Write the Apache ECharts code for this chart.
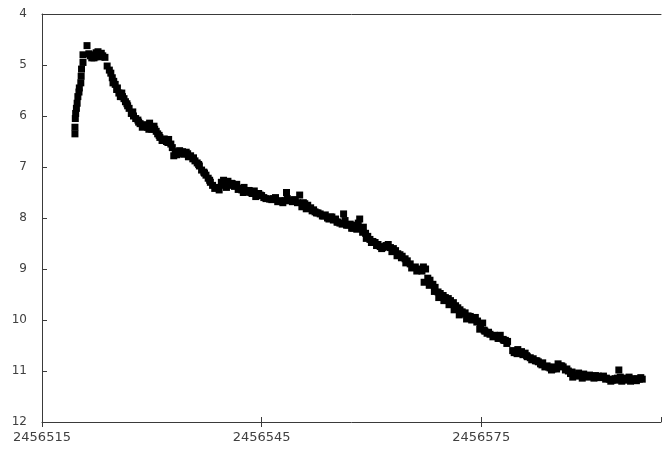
<!DOCTYPE html>
<html>
<head>
<meta charset="utf-8">
<script src="https://cdn.jsdelivr.net/npm/echarts@6/dist/echarts.min.js"></script>
<style>
  html, body { margin: 0; padding: 0; background: #fff; }
  #chart { width: 662px; height: 452px; }
</style>
</head>
<body>
<div id="chart"></div>
<script>
// Julian date of each observation
const julianDates = [
  2456519.5, 2456519.5, 2456519.55, 2456519.6, 2456519.8, 2456519.9, 2456520.05, 2456520.1, 2456520.3, 2456520.35,
  2456520.4, 2456520.6, 2456520.6, 2456521.15,
  2456521.6, 2456521.8, 2456522.0, 2456522.25, 2456522.4, 2456522.65, 2456522.9, 2456523.1, 2456523.3, 2456523.6,
  2456523.9, 2456524.2, 2456524.4, 2456524.6, 2456524.7, 2456525.0, 2456525.3, 2456525.5, 2456525.7, 2456525.9,
  2456526.2, 2456526.4, 2456526.7, 2456526.9, 2456527.2, 2456527.5, 2456527.8, 2456528.1, 2456528.4, 2456528.7,
  2456529.0, 2456529.4, 2456529.7, 2456530.0, 2456530.3, 2456530.6, 2456530.8, 2456531.1, 2456531.4, 2456531.7,
  2456532.0, 2456532.3, 2456532.6,
  2456533.0, 2456533.2, 2456533.5, 2456533.8, 2456534.1, 2456534.4, 2456534.7, 2456535.0, 2456535.3, 2456535.6,
  2456535.9, 2456536.2, 2456536.5, 2456536.8, 2456537.1, 2456537.4, 2456537.7, 2456538.0, 2456538.3, 2456538.6,
  2456539.2, 2456539.5, 2456539.8, 2456540.1, 2456540.4, 2456540.7, 2456541.0, 2456541.3, 2456541.6, 2456542.0,
  2456542.3, 2456542.6, 2456543.0, 2456543.3, 2456543.7, 2456544.0, 2456544.3, 2456544.6, 2456545.0,
  2456545.3, 2456546.1, 2456546.6, 2456547.2, 2456548.4, 2456548.5, 2456549.2, 2456549.6, 2456550.2, 2456550.5,
  2456550.9, 2456551.3, 2456551.7, 2456552.1, 2456552.3, 2456552.7, 2456553.0, 2456553.3, 2456553.7, 2456554.0,
  2456554.4, 2456554.8, 2456555.1, 2456555.4, 2456555.7, 2456556.2, 2456556.4, 2456556.8, 2456557.1, 2456557.5,
  2456557.8, 2456558.2, 2456558.4, 2456558.6, 2456558.9, 2456559.2, 2456559.5, 2456559.8, 2456560.2, 2456560.5,
  2456560.9, 2456561.2, 2456561.6, 2456562.0, 2456562.3, 2456562.6, 2456563.0, 2456563.3, 2456563.6, 2456563.9,
  2456564.2, 2456564.6, 2456564.9, 2456565.3, 2456565.7, 2456566.0, 2456566.4, 2456566.7, 2456567.1, 2456567.4,
  2456567.7, 2456568.0, 2456568.4, 2456568.7, 2456569.1, 2456569.4, 2456569.8, 2456570.1, 2456570.5, 2456570.8,
  2456571.2, 2456571.5, 2456571.8, 2456572.1, 2456572.4, 2456572.8, 2456573.2, 2456573.5, 2456573.9, 2456574.2,
  2456574.5, 2456574.8, 2456575.2, 2456575.5, 2456575.8, 2456576.2, 2456576.6, 2456576.9, 2456577.3, 2456577.6,
  2456578.0, 2456578.3, 2456578.6, 2456579.3, 2456579.6, 2456580.0, 2456580.3, 2456580.7, 2456581.0, 2456581.3,
  2456581.7, 2456582.1, 2456582.4, 2456582.8, 2456583.1, 2456583.4, 2456583.7, 2456584.0, 2456584.4, 2456584.8,
  2456585.1, 2456585.5, 2456585.8, 2456586.2, 2456586.5, 2456586.9, 2456587.2, 2456587.5, 2456587.9, 2456588.3,
  2456588.6, 2456589.0, 2456589.4, 2456589.8, 2456590.2, 2456590.6, 2456591.0, 2456591.3, 2456591.7, 2456592.1,
  2456592.5, 2456592.9, 2456593.3, 2456593.6, 2456593.8, 2456594.0, 2456594.4, 2456594.8, 2456595.2, 2456595.6,
  2456596.0, 2456596.4, 2456596.8, 2456597.0,
  // second pass of observations
  2456519.7, 2456521.4, 2456522.1, 2456523.0, 2456524.8, 2456525.2, 2456526.0, 2456526.6, 2456527.4, 2456528.2,
  2456528.9, 2456529.6, 2456530.4, 2456531.0, 2456531.6, 2456532.2, 2456532.8, 2456533.4, 2456534.2, 2456534.9,
  2456535.7, 2456536.4, 2456537.2, 2456537.9, 2456538.9, 2456539.6, 2456540.2, 2456540.9, 2456541.8, 2456542.5,
  2456543.5, 2456544.2, 2456544.8, 2456545.6, 2456546.4, 2456546.9, 2456547.5, 2456547.9, 2456548.2, 2456548.8,
  2456549.4, 2456549.9, 2456550.7, 2456551.1, 2456551.9, 2456552.5, 2456553.5, 2456554.2, 2456554.6, 2456555.3,
  2456556.0, 2456556.6, 2456557.3, 2456557.9, 2456558.0, 2456558.8, 2456559.3, 2456560.0, 2456560.7, 2456561.4,
  2456562.2, 2456562.8, 2456563.5, 2456564.1, 2456564.7, 2456565.5, 2456566.2, 2456566.9, 2456567.2, 2456567.9,
  2456568.6, 2456569.2, 2456569.9, 2456570.6, 2456571.3, 2456572.0, 2456572.6, 2456573.0, 2456573.7, 2456574.4,
  2456574.9, 2456575.4, 2456576.0, 2456576.8, 2456577.4, 2456578.1, 2456578.5, 2456579.5, 2456579.9, 2456580.5,
  2456581.2, 2456581.9, 2456582.6, 2456583.3, 2456584.2, 2456584.6, 2456585.3, 2456586.0, 2456586.7, 2456587.4,
  2456588.1, 2456588.8, 2456589.6, 2456590.4, 2456591.2, 2456592.0, 2456592.7, 2456593.5, 2456594.2, 2456594.6,
  2456595.4, 2456596.2, 2456596.6
];

// visual magnitude of each observation
const magnitudes = [
  6.35, 6.22, 6.05, 5.95, 5.75, 5.62, 5.53, 5.45, 5.35, 5.22,
  5.08, 4.95, 4.80, 4.62,
  4.82, 4.86, 4.80, 4.84, 4.76, 4.74, 4.80, 4.77, 4.82, 4.85,
  5.02, 5.10, 5.16, 5.25, 5.35, 5.38, 5.45, 5.55, 5.62, 5.55,
  5.66, 5.72, 5.80, 5.85, 5.95, 6.00, 6.05, 6.08, 6.15, 6.22,
  6.17, 6.22, 6.14, 6.26, 6.20, 6.30, 6.35, 6.42, 6.48, 6.45,
  6.50, 6.46, 6.55,
  6.78, 6.70, 6.74, 6.68, 6.72, 6.75, 6.71, 6.80, 6.78, 6.84,
  6.88, 6.92, 6.98, 7.06, 7.10, 7.16, 7.22, 7.30, 7.36, 7.42,
  7.45, 7.30, 7.26, 7.30, 7.28, 7.36, 7.33, 7.38, 7.34, 7.42,
  7.45, 7.40, 7.48, 7.46, 7.52, 7.47, 7.55, 7.52, 7.56,
  7.60, 7.63, 7.62, 7.68, 7.50, 7.62, 7.68, 7.65, 7.55, 7.78,
  7.72, 7.75, 7.80, 7.84, 7.88, 7.90, 7.92, 7.96, 7.94, 8.00,
  7.98, 8.04, 8.02, 8.08, 8.10, 7.92, 8.05, 8.14, 8.12, 8.20,
  8.16, 8.10, 8.02, 8.20, 8.18, 8.30, 8.36, 8.42, 8.46, 8.48,
  8.52, 8.56, 8.58, 8.54, 8.52, 8.58, 8.60, 8.64, 8.70, 8.72,
  8.75, 8.80, 8.84, 8.90, 8.97, 8.96, 9.00, 9.02, 8.96, 9.00,
  9.18, 9.22, 9.30, 9.36, 9.45, 9.48, 9.52, 9.56, 9.58, 9.62,
  9.66, 9.72, 9.76, 9.80, 9.84, 9.86, 9.92, 9.93, 9.96, 9.95,
  10.02, 10.18, 10.06, 10.22, 10.26, 10.28, 10.33, 10.32, 10.36, 10.30,
  10.38, 10.40, 10.42, 10.60, 10.62, 10.58, 10.64, 10.68, 10.65, 10.72,
  10.74, 10.76, 10.80, 10.82, 10.86, 10.84, 10.92, 10.90, 10.94, 10.96,
  10.92, 10.86, 10.90, 10.92, 10.98, 11.00, 11.05, 11.12, 11.08, 11.04,
  11.07, 11.06, 11.09, 11.08, 11.10, 11.09, 11.10, 11.12, 11.10, 11.14,
  11.16, 11.18, 11.15, 11.14, 10.98, 11.12, 11.16, 11.14, 11.12, 11.15,
  11.17, 11.15, 11.13, 11.16,
  // second pass of observations
  5.85, 4.78, 4.86, 4.84, 5.32, 5.48, 5.62, 5.76, 5.92, 6.12,
  6.20, 6.26, 6.26, 6.38, 6.47, 6.52, 6.62, 6.76, 6.70, 6.74,
  6.82, 6.95, 7.12, 7.26, 7.40, 7.36, 7.40, 7.32, 7.44, 7.50,
  7.50, 7.58, 7.55, 7.62, 7.64, 7.60, 7.66, 7.70, 7.66, 7.66,
  7.64, 7.70, 7.70, 7.82, 7.86, 7.90, 7.96, 8.02, 7.98, 8.08,
  8.12, 8.14, 8.20, 8.14, 8.22, 8.28, 8.40, 8.48, 8.54, 8.60,
  8.56, 8.66, 8.74, 8.78, 8.88, 8.98, 9.04, 9.04, 9.26, 9.32,
  9.44, 9.56, 9.62, 9.70, 9.80, 9.90, 9.88, 9.98, 10.00, 10.04,
  10.10, 10.20, 10.24, 10.30, 10.36, 10.40, 10.46, 10.64, 10.66, 10.62,
  10.70, 10.78, 10.80, 10.88, 10.92, 10.98, 10.96, 10.90, 10.96, 11.02,
  11.10, 11.14, 11.12, 11.14, 11.13, 11.16, 11.20, 11.18, 11.20, 11.18,
  11.20, 11.19, 11.16
];

const xMin = 2456515;
const xMax = 2456599.56;
const xStep = 30;
const yMin = 4;
const yMax = 12;

const points = julianDates.map((d, i) => [d, magnitudes[i]]);

const chart = echarts.init(document.getElementById('chart'));
const axisColor = '#3a3a3a';
const labelFont = { color: '#404040', fontFamily: 'DejaVu Sans' };

chart.setOption({
  animation: false,
  backgroundColor: '#ffffff',
  grid: { left: 42, right: 1, top: 14, bottom: 30 },
  xAxis: [
    {
      type: 'value',
      position: 'bottom',
      min: xMin,
      max: xMax,
      interval: xStep,
      axisLine: { onZero: false, lineStyle: { color: axisColor, width: 1 } },
      axisTick: { show: true, inside: false, length: 5, lineStyle: { color: axisColor } },
      axisLabel: {
        ...labelFont,
        fontSize: 13,
        margin: 9,
        showMaxLabel: false,
        formatter: v => String(Math.round(v))
      },
      splitLine: { show: false }
    },
    {
      // inner half of the crossing ticks
      type: 'value',
      position: 'bottom',
      min: xMin,
      max: xMax,
      interval: xStep,
      axisLine: { show: false, onZero: false },
      axisTick: { show: true, inside: true, length: 5, lineStyle: { color: axisColor } },
      axisLabel: { show: false },
      splitLine: { show: false }
    },
    {
      // top border
      type: 'value',
      position: 'top',
      min: xMin,
      max: xMax,
      axisLine: { show: true, onZero: false, lineStyle: { color: axisColor, width: 1 } },
      axisTick: { show: false },
      axisLabel: { show: false },
      splitLine: { show: false }
    }
  ],
  yAxis: {
    type: 'value',
    inverse: true,
    min: yMin,
    max: yMax,
    interval: 1,
    axisLine: { show: true, onZero: false, lineStyle: { color: axisColor, width: 1 } },
    axisTick: { show: true, inside: true, length: 5, lineStyle: { color: axisColor } },
    axisLabel: { ...labelFont, fontSize: 12, margin: 15 },
    splitLine: { show: false }
  },
  series: [
    {
      type: 'scatter',
      xAxisIndex: 0,
      data: points,
      symbol: 'rect',
      symbolSize: [7, 7],
      itemStyle: { color: '#000000', opacity: 1 }
    }
  ]
});
</script>
</body>
</html>
